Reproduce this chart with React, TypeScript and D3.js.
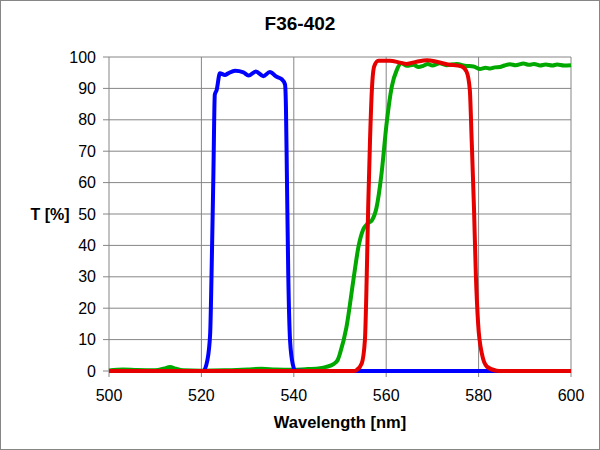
import React from 'react';
import * as d3 from 'd3';

// transmission curves, wavelength [nm] / T [%]
const blueWl = [500, 510, 518, 520.4, 521.3, 521.9, 522.2, 522.6, 522.9, 523.3, 524.0, 525.1, 525.8, 527.3, 529.1, 530.2, 531.8, 533.4, 534.8, 536.3, 537.4, 538.1, 538.3, 538.5, 538.8, 539.2, 539.8, 540.3, 545, 600];
const blueT = [0, 0, 0, 0, 3.5, 12, 31, 63, 88, 89.5, 94.8, 94.3, 94.8, 95.6, 95.1, 94.1, 95.4, 93.9, 95.2, 93.7, 92.9, 91.3, 84, 63, 31, 9.5, 2, 0.2, 0, 0];

const greenWl = [500, 503, 506, 510, 512, 513.2, 514.5, 516, 520, 525, 530, 533, 536, 540, 543, 545.7, 547, 548.6, 549.5, 550, 551.4, 552.9, 554, 555, 556, 556.9, 557.9, 559, 560.1, 561.2, 562.3, 563.3, 564.5, 565.9, 567, 568, 569, 570, 571.6, 573, 575.3, 577, 578.9, 580.3, 581.5, 582.5, 583.5, 584.6, 585.6, 586.8, 588, 589.7, 591, 592, 593.3, 594.5, 596, 597, 598.5, 600];
const greenT = [0.2, 0.5, 0.3, 0.2, 0.8, 1.3, 0.7, 0.2, 0.1, 0.2, 0.5, 0.7, 0.5, 0.4, 0.6, 0.9, 1.3, 2.2, 3.5, 5.6, 14, 29, 39.6, 45, 47, 48, 52, 63, 79, 90.5, 95.9, 98, 97.2, 97.5, 96.8, 97.2, 97.8, 97.3, 98, 97.4, 97.8, 97.2, 97, 96.2, 96.6, 96.3, 96.7, 96.8, 97.3, 97.7, 97.4, 97.9, 97.5, 97.8, 97.3, 97.6, 97.3, 97.6, 97.3, 97.4];

const redWl = [500, 553, 553.6, 554.7, 555.4, 555.8, 556.1, 556.5, 556.9, 557.4, 558.3, 560.8, 563, 564.4, 566.6, 568.8, 570.9, 573.1, 576.3, 577.4, 578.1, 578.5, 579, 579.4, 579.9, 580.7, 581.8, 583.9, 585, 600];
const redT = [0, 0, 0.3, 2.4, 10, 31, 52, 73.6, 89.5, 97, 98.8, 98.8, 98.2, 97.8, 98.5, 99, 98.5, 97.7, 97, 95.3, 89.5, 73.6, 52, 31, 15, 5.6, 1.4, 0.1, 0, 0];

const xTicks = [500, 520, 540, 560, 580, 600];
const yTicks = [0, 10, 20, 30, 40, 50, 60, 70, 80, 90, 100];

const W = 600;
const H = 450;
const plot = { left: 109, right: 571, top: 57, bottom: 371 };
const font = "'Liberation Sans', Arial, sans-serif";

export default function App() {
  const x = d3.scaleLinear().domain([500, 600]).range([plot.left, plot.right]);
  const y = d3.scaleLinear().domain([0, 100]).range([plot.bottom, plot.top]);

  const line = d3.line<[number, number]>()
    .x(d => x(d[0]))
    .y(d => y(d[1]))
    .curve(d3.curveMonotoneX);

  const series = [
    { wl: greenWl, t: greenT, color: '#00a800' },
    { wl: blueWl, t: blueT, color: '#0000ff' },
    { wl: redWl, t: redT, color: '#e60000' },
  ];

  return (
    <svg width={W} height={H} style={{ position: 'absolute', left: 0, top: 0 }} fontFamily={font}>
      <rect x={0.5} y={0.5} width={W - 1} height={H - 1} fill="#fff" stroke="#868686" />
      <text x={300} y={30} textAnchor="middle" fontSize={19} fontWeight="bold">F36-402</text>

      {yTicks.map(v => (
        <g key={'y' + v}>
          <line x1={plot.left - 6} x2={plot.right} y1={y(v)} y2={y(v)} stroke="#868686" strokeWidth={1} />
          <text x={plot.left - 13} y={y(v)} dy="0.35em" textAnchor="end" fontSize={16}>{v}</text>
        </g>
      ))}
      {xTicks.map(v => (
        <g key={'x' + v}>
          <line x1={x(v)} x2={x(v)} y1={plot.top} y2={plot.bottom + 6} stroke="#868686" strokeWidth={1} />
          <text x={x(v)} y={plot.bottom + 24} dy="0.35em" textAnchor="middle" fontSize={16}>{v}</text>
        </g>
      ))}

      {series.map((s, i) => (
        <path key={i} d={line(s.wl.map((w, j) => [w, s.t[j]] as [number, number])) || ''}
          fill="none" stroke={s.color} strokeWidth={4} strokeLinejoin="round" />
      ))}

      <text x={50} y={214} dy="0.35em" textAnchor="middle" fontSize={16} fontWeight="bold">T [%]</text>
      <text x={(plot.left + plot.right) / 2} y={422} dy="0.35em" textAnchor="middle" fontSize={16.5} fontWeight="bold">Wavelength [nm]</text>
    </svg>
  );
}
